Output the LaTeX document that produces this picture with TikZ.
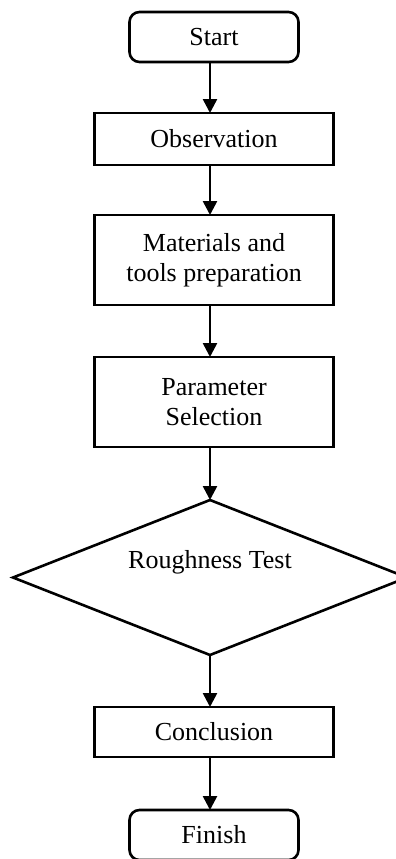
\documentclass[tikz,border=0pt]{standalone}
\usepackage{fontspec}
\setmainfont{Liberation Serif}
\usetikzlibrary{arrows.meta,shapes.geometric}
\begin{document}
\begin{tikzpicture}[x=1pt,y=-1pt,
  every node/.style={inner sep=0pt, outer sep=0pt, align=center,
    font=\fontsize{26}{30}\selectfont},
  procbox/.style={draw, line width=2.6pt, minimum width=239pt},
  termbox/.style={draw, line width=2.6pt, rounded corners=10pt,
    minimum width=169pt, minimum height=50pt},
  decbox/.style={draw, diamond, line width=2.6pt,
    minimum width=394pt, minimum height=155pt},
  flow/.style={line width=2.6pt, -{Triangle[width=14pt,length=14pt]}}]
  \useasboundingbox (0,0) rectangle (396,859);

  \node[termbox] (start) at (214,37) {Start};
  \node[procbox, minimum height=52pt] (obs) at (214,139) {Observation};
  \node[procbox, minimum height=90pt] (mat) at (214,260) {Materials and\\tools preparation};
  \node[procbox, minimum height=90pt] (par) at (214,402) {Parameter\\Selection};
  \node[decbox] (dec) at (210,577.5) {};
  \node (dectext) at (210,562) {Roughness Test};
  \node[procbox, minimum height=50pt] (conc) at (214,732) {Conclusion};
  \node[termbox] (fin) at (214,835) {Finish};

  \draw[flow] ([xshift=-4pt]start.south) -- ([xshift=-4pt]obs.north);
  \draw[flow] ([xshift=-4pt]obs.south) -- ([xshift=-4pt]mat.north);
  \draw[flow] ([xshift=-4pt]mat.south) -- ([xshift=-4pt]par.north);
  \draw[flow] ([xshift=-4pt]par.south) -- (dec.north);
  \draw[flow] (dec.south) -- ([xshift=-4pt]conc.north);
  \draw[flow] ([xshift=-4pt]conc.south) -- ([xshift=-4pt]fin.north);
\end{tikzpicture}
\end{document}
